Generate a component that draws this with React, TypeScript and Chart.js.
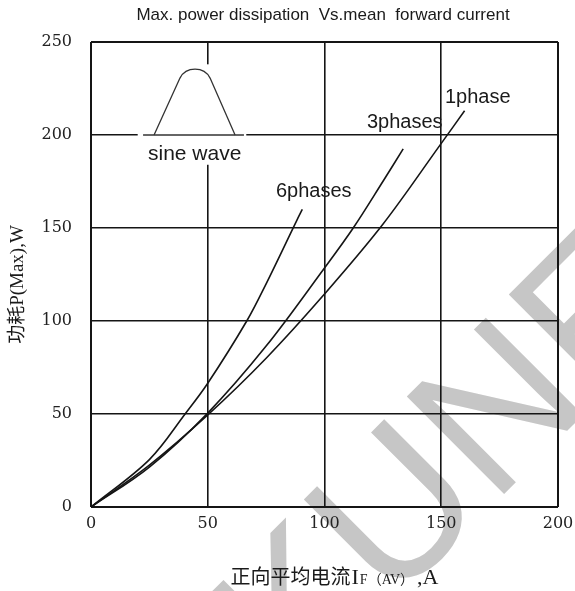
import React, { useEffect, useRef } from 'react';
import { Chart, registerables } from 'chart.js';
Chart.register(...registerables);

// ---- data ----
const xTickValues = [0, 50, 100, 150, 200];
const yTickValues = [0, 50, 100, 150, 200, 250];

const current1Phase = [0, 25, 50, 75, 100, 125, 150, 160];
const power1Phase = [0, 22.5, 49.5, 80, 114.5, 152, 195.5, 213];

const current3Phases = [0, 25, 50, 75, 100, 112.3, 125, 133.7];
const power3Phases = [0, 21.5, 50.5, 86.5, 128.5, 150, 175, 192.5];

const current6Phases = [0, 25, 40.3, 50, 66.7, 75, 88.1, 90.5];
const power6Phases = [0, 25.5, 50, 66.5, 100, 120, 154, 160];

const seriesNames = ['1phase', '3phases', '6phases'];
const seriesLabelX = [151.6, 118.2, 79.2];
const seriesLabelY = [220.4, 206.5, 169.4];

const chartTitle = 'Max. power dissipation  Vs.mean  forward current';
const yAxisTitle = '功耗P(Max),W';
const xAxisTitleParts = ['正向平均电流', 'I', 'F（AV）', ',A'];
const insetLabel = 'sine wave';
const watermarkText = 'KUNE';

const toPoints = (xs: number[], ys: number[]) => xs.map((x, i) => ({ x, y: ys[i] }));

const annotationPlugin = {
  id: 'annotations',
  beforeDraw(chart: any) {
    const ctx = chart.ctx;
    ctx.save();
    ctx.fillStyle = '#c6c6c6';
    ctx.font = '200px "Liberation Sans", Arial, sans-serif';
    ctx.translate(296, 702);
    ctx.rotate(-Math.PI / 4);
    ctx.textBaseline = 'alphabetic';
    ctx.textAlign = 'left';
    ctx.fillText(watermarkText, 0, 0);
    ctx.restore();
  },
  beforeDatasetsDraw(chart: any) {
    const ctx = chart.ctx;
    const xs = chart.scales.x;
    const ys = chart.scales.y;
    const px = (v: number) => xs.getPixelForValue(v);
    const py = (v: number) => ys.getPixelForValue(v);
    ctx.save();
    // white box behind the inset
    ctx.fillStyle = '#ffffff';
    ctx.fillRect(px(20), py(238), px(66.5) - px(20), py(184) - py(238));
    // baseline
    ctx.strokeStyle = '#333';
    ctx.lineWidth = 1.5;
    ctx.beginPath();
    ctx.moveTo(px(22.3), py(200));
    ctx.lineTo(px(65.5), py(200));
    ctx.stroke();
    // half sine hump
    ctx.lineWidth = 1.3;
    ctx.beginPath();
    ctx.moveTo(px(27), py(200));
    ctx.lineTo(px(38.1), py(230.6));
    ctx.bezierCurveTo(px(40.7), py(237), px(48.4), py(237), px(51), py(230.6));
    ctx.lineTo(px(61.7), py(200));
    ctx.stroke();
    ctx.fillStyle = '#1a1a1a';
    ctx.font = '21px "Liberation Sans", Arial, sans-serif';
    ctx.textAlign = 'center';
    ctx.textBaseline = 'middle';
    ctx.fillText(insetLabel, px(44.4), py(189.8));
    ctx.restore();
  },
  afterDatasetsDraw(chart: any) {
    const ctx = chart.ctx;
    const xs = chart.scales.x;
    const ys = chart.scales.y;
    const area = chart.chartArea;
    ctx.save();
    ctx.fillStyle = '#1a1a1a';
    // series labels
    ctx.font = '20px "Liberation Sans", Arial, sans-serif';
    ctx.textAlign = 'left';
    ctx.textBaseline = 'middle';
    seriesNames.forEach((n, i) => {
      ctx.fillText(n, xs.getPixelForValue(seriesLabelX[i]), ys.getPixelForValue(seriesLabelY[i]));
    });
    // chart title
    ctx.font = '17px "Liberation Sans", Arial, sans-serif';
    ctx.textAlign = 'center';
    ctx.fillText(chartTitle, 323, area.top - 27);
    // y axis title
    ctx.save();
    ctx.translate(area.left - 73, (area.top + area.bottom) / 2 + 10);
    ctx.rotate(-Math.PI / 2);
    ctx.font = '19px "Liberation Serif", "Noto Sans CJK SC", serif';
    ctx.textAlign = 'center';
    ctx.fillText(yAxisTitle, 0, 0);
    ctx.restore();
    // x axis title (with subscript part)
    const fonts = [
      '20px "Noto Sans CJK SC", sans-serif',
      '22px "Liberation Serif", serif',
      '14px "Liberation Serif", "Noto Sans CJK SC", serif',
      '22px "Liberation Serif", serif',
    ];
    const gaps = [1, 1, 3, 0];
    const widths = xAxisTitleParts.map((t, i) => {
      ctx.font = fonts[i];
      return ctx.measureText(t).width + gaps[i];
    });
    const total = widths.reduce((a, b) => a + b, 0);
    let cx = (area.left + area.right) / 2 + 10 - total / 2;
    const baseY = area.bottom + 77;
    ctx.textAlign = 'left';
    ctx.textBaseline = 'alphabetic';
    xAxisTitleParts.forEach((t, i) => {
      ctx.font = fonts[i];
      ctx.fillText(t, cx, baseY);
      cx += widths[i];
    });
    ctx.restore();
  },
};

export default function App() {
  const ref = useRef<HTMLCanvasElement | null>(null);
  useEffect(() => {
    if (!ref.current) return;
    const lineStyle = {
      borderColor: '#151515',
      borderWidth: 1.6,
      pointRadius: 0,
      fill: false,
      tension: 0.35,
    };
    const gridWidth = (c: any, n: number) => (c.index === 0 || c.index === n - 1 ? 2 : 1.6);
    const chart = new Chart(ref.current, {
      type: 'line',
      data: {
        datasets: [
          { label: seriesNames[0], data: toPoints(current1Phase, power1Phase), ...lineStyle },
          { label: seriesNames[1], data: toPoints(current3Phases, power3Phases), ...lineStyle },
          { label: seriesNames[2], data: toPoints(current6Phases, power6Phases), ...lineStyle },
        ],
      },
      options: {
        animation: false,
        responsive: false,
        devicePixelRatio: 1,
        layout: { padding: { left: 0, right: 17, top: 42, bottom: 0 } },
        plugins: { legend: { display: false }, tooltip: { enabled: false }, title: { display: false } },
        scales: {
          x: {
            type: 'linear',
            min: 0,
            max: 200,
            afterBuildTicks: (s: any) => {
              s.ticks = xTickValues.map((v) => ({ value: v }));
            },
            afterFit: (s: any) => {
              s.height = 84;
              s.paddingLeft = 0;
              s.paddingRight = 0;
            },
            grid: { color: '#151515', lineWidth: (c: any) => gridWidth(c, xTickValues.length), drawTicks: false },
            border: { display: false },
            ticks: {
              color: '#222',
              padding: 7,
              font: { family: '"DejaVu Serif", serif', size: 16 },
              maxRotation: 0,
            },
          },
          y: {
            type: 'linear',
            min: 0,
            max: 250,
            afterBuildTicks: (s: any) => {
              s.ticks = yTickValues.map((v) => ({ value: v }));
            },
            afterFit: (s: any) => {
              s.width = 91;
              s.paddingTop = 0;
              s.paddingBottom = 0;
            },
            grid: { color: '#151515', lineWidth: (c: any) => gridWidth(c, yTickValues.length), drawTicks: false },
            border: { display: false },
            ticks: {
              color: '#222',
              padding: 19,
              font: { family: '"DejaVu Serif", serif', size: 16 },
            },
          },
        },
      },
      plugins: [annotationPlugin],
    });
    return () => chart.destroy();
  }, []);
  return (
    <div style={{ position: 'fixed', left: 0, top: 0, width: 575, height: 591, background: '#fff' }}>
      <canvas ref={ref} width={575} height={591} style={{ display: 'block' }} />
    </div>
  );
}
